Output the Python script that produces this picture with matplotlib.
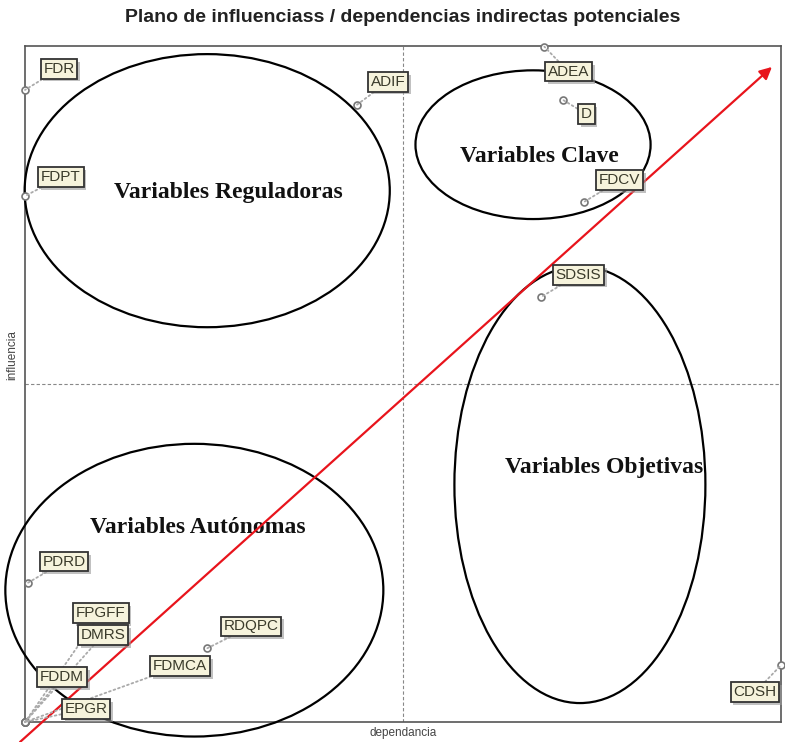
import matplotlib
matplotlib.use("Agg")
import matplotlib.pyplot as plt
import matplotlib.patheffects as pe
from matplotlib.patches import Ellipse

# Variables: (dependance, influence) on a 0-100 scale
var_names = ["FDR", "FDPT", "ADIF", "ADEA", "D", "FDCV", "SDSIS", "CDSH",
             "PDRD", "RDQPC", "FPGFF", "DMRS", "FDDM", "FDMCA", "EPGR"]
dependance = [0.0, 0.0, 43.9, 68.7, 71.2, 73.9, 68.3, 100.0,
              0.4, 24.1, 0.0, 0.0, 0.0, 0.0, 0.0]
influence = [93.5, 77.8, 91.3, 99.9, 92.0, 76.9, 62.9, 8.4,
             20.6, 10.9, 0.0, 0.0, 0.0, 0.0, 0.0]
# label offsets (pixels) from each point
label_dx = [34, 36, 31, 24, 23, 36, 37, -26, 36, 44, 76, 78, 37, 155, 61]
label_dy = [21, 19, 23, -25, -14, 22, 22, -27, 21, 22, 109, 87, 45, 56, 13]

# zones: name, centre x, centre y, width, height, text x, text y
zone_names = ["Variables Reguladoras", "Variables Clave",
              "Variables Objetivas", "Variables Autónomas"]
zone_cx = [24.1, 67.2, 73.4, 22.4]
zone_cy = [78.6, 85.4, 35.1, 19.5]
zone_w = [48.3, 31.1, 33.2, 50.0]
zone_h = [40.4, 22.0, 64.6, 43.3]
zone_tx = [26.9, 68.0, 76.6, 22.9]
zone_ty = [78.3, 83.6, 37.7, 28.8]

# diagonal arrow start / end
diag_x = [-0.66, 98.8]
diag_y = [-2.96, 96.9]

fig = plt.figure(figsize=(7.85, 7.42), dpi=100)
ax = fig.add_axes([25 / 785, 1 - 722 / 742, 756 / 785, 676 / 742])
ax.set_xlim(0, 100)
ax.set_ylim(0, 100)
ax.set_xticks([])
ax.set_yticks([])
for s in ax.spines.values():
    s.set_color('#555555')
    s.set_linewidth(1.2)

ax.axvline(50, color='#888888', linestyle=(0, (3, 2)), linewidth=0.8)
ax.axhline(50, color='#888888', linestyle=(0, (3, 2)), linewidth=0.8)

# zones
for name, cx, cy, w, h, tx, ty in zip(zone_names, zone_cx, zone_cy, zone_w,
                                      zone_h, zone_tx, zone_ty):
    ax.add_patch(Ellipse((cx, cy), w, h, fill=False, edgecolor='black',
                         linewidth=1.6, clip_on=False, zorder=3))
    ax.text(tx, ty, name, ha='center', va='center', fontsize=17,
            fontweight='bold', family='Liberation Serif', color='#111111',
            zorder=4)

# diagonal
ax.annotate('', xy=(diag_x[1], diag_y[1]), xytext=(diag_x[0], diag_y[0]),
            arrowprops=dict(arrowstyle='-|>', color='#e8141c', lw=1.6,
                            mutation_scale=18, shrinkA=0, shrinkB=0),
            annotation_clip=False, zorder=5)

# points and labels
ax.plot(dependance, influence, 'o', markersize=5, markerfacecolor='white',
        markeredgecolor='#777777', markeredgewidth=1.2, clip_on=False,
        zorder=6)
for name, x, y, dx, dy in zip(var_names, dependance, influence,
                              label_dx, label_dy):
    t = ax.annotate(name, xy=(x, y), xytext=(dx, dy),
                    textcoords='offset pixels', ha='center', va='center',
                    fontsize=11, family='Liberation Sans', color='#3a3a2a',
                    bbox=dict(boxstyle='square,pad=0.18', facecolor='#f6f3dc',
                              edgecolor='#333333', linewidth=1.3),
                    arrowprops=dict(arrowstyle='-', color='#aaaaaa',
                                    linestyle=':', lw=1.3,
                                    shrinkA=0, shrinkB=0),
                    annotation_clip=False, zorder=7)
    t.get_bbox_patch().set_path_effects(
        [pe.SimplePatchShadow(offset=(2, -2), shadow_rgbFace='#999999',
                              alpha=0.6), pe.Normal()])

fig.text(403 / 785, 1 - 18 / 742,
         'Plano de influenciass / dependencias indirectas potenciales',
         ha='center', va='center', fontsize=14, fontweight='bold',
         family='Liberation Sans', color='#222222')
fig.text(403 / 785, 1 - 733 / 742, 'dependancia', ha='center', va='center',
         fontsize=8.5, family='Liberation Sans', color='#444444')
fig.text(12 / 785, 1 - 355 / 742, 'influencia', ha='center', va='center',
         rotation=90, fontsize=8.5, family='Liberation Sans', color='#444444')

fig.savefig('out.png', dpi=100)
